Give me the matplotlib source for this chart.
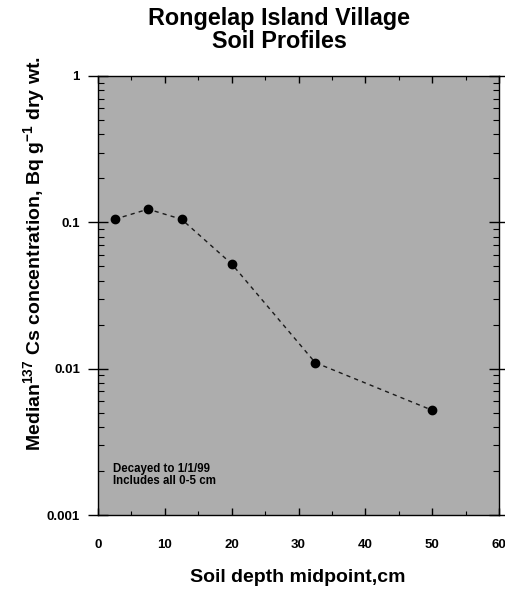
import matplotlib
matplotlib.use("Agg")
import matplotlib.pyplot as plt
from matplotlib.ticker import LogLocator, MultipleLocator, FixedFormatter, FixedLocator, NullFormatter

plt.rcParams['font.family'] = ['Liberation Sans', 'DejaVu Sans']
plt.rcParams['mathtext.fontset'] = 'custom'
plt.rcParams['mathtext.bf'] = 'Liberation Sans:bold'
plt.rcParams['mathtext.rm'] = 'Liberation Sans:bold'

depth = [2.5, 7.5, 12.5, 20.0, 32.5, 50.0]
conc = [0.105, 0.123, 0.105, 0.052, 0.011, 0.0052]
x_ticks = [0, 10, 20, 30, 40, 50, 60]
y_ticks = [0.001, 0.01, 0.1, 1]
y_tick_labels = ['0.001', '0.01', '0.1', '1']

fig = plt.figure(figsize=(5.05, 5.89), dpi=100)
ax = fig.add_axes([98/505, 1 - 515/589, (499-98)/505, (515-76)/589])
ax.set_facecolor('#adadad')

ax.plot(depth, conc, linestyle=(0, (3, 3)), color='#1a1a1a', linewidth=1.0, zorder=2)
ax.plot(depth, conc, 'o', color='black', markersize=6, zorder=3)

ax.set_yscale('log')
ax.set_xlim(0, 60)
ax.set_ylim(0.001, 1)
ax.xaxis.set_major_locator(FixedLocator(x_ticks))
ax.xaxis.set_minor_locator(MultipleLocator(5))
ax.yaxis.set_major_locator(FixedLocator(y_ticks))
ax.yaxis.set_major_formatter(FixedFormatter(y_tick_labels))
ax.yaxis.set_minor_locator(LogLocator(base=10, subs=range(2, 10)))
ax.yaxis.set_minor_formatter(NullFormatter())

ax.tick_params(axis='y', which='major', direction='inout', length=14, width=1,
               left=True, right=True, labelsize=9.5, pad=6)
ax.tick_params(axis='y', which='minor', direction='in', length=4, width=0.8,
               left=True, right=True)
ax.tick_params(axis='x', which='major', direction='in', length=5, width=1,
               top=True, bottom=True, labelsize=9.5, pad=17)
ax.tick_params(axis='x', which='minor', direction='in', length=3, width=0.8,
               top=True, bottom=True)
for lab in ax.get_xticklabels() + ax.get_yticklabels():
    lab.set_fontweight('bold')
for sp in ax.spines.values():
    sp.set_linewidth(1.0)

ax.text(2.3, 0.00188, 'Decayed to 1/1/99\nIncludes all 0-5 cm', fontsize=8.3,
        fontweight='bold', va='center', ha='left', linespacing=1.05)

fig.text(0.553, 1 - 30/589, 'Rongelap Island Village\nSoil Profiles', ha='center', va='center',
         fontsize=16.8, fontweight='bold', linespacing=1.0)
fig.text(298/505, 1 - 577/589, 'Soil depth midpoint,cm', ha='center', va='center',
         fontsize=14, fontweight='bold')
fig.text(35/505, 1 - 254/589,
         r'Median$^{\mathbf{137}}$ Cs concentration, Bq g$^{\mathbf{-1}}$ dry wt.',
         rotation=90, ha='center', va='center', fontsize=14, fontweight='bold')

fig.savefig('out.png', dpi=100)
